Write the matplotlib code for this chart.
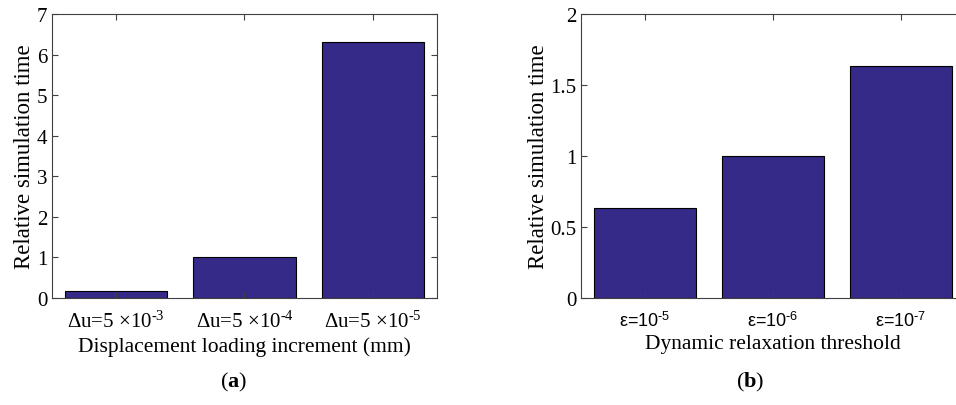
import matplotlib
matplotlib.use("Agg")
import matplotlib.pyplot as plt
from matplotlib.ticker import FormatStrFormatter

plt.rcParams['font.family'] = ['Liberation Serif', 'DejaVu Serif']
plt.rcParams['mathtext.fontset'] = 'custom'
plt.rcParams['mathtext.rm'] = 'Liberation Serif'
plt.rcParams['mathtext.bf'] = 'Liberation Serif:bold'
plt.rcParams['mathtext.sf'] = 'Liberation Sans'
plt.rcParams['mathtext.it'] = 'Liberation Serif:italic'

# (a) displacement loading increment
inc_labels = ['Δu=5 ×10$^{\\text{-}3}$', 'Δu=5 ×10$^{\\text{-}4}$', 'Δu=5 ×10$^{\\text{-}5}$']
inc_times = [0.17, 1.0, 6.32]

# (b) dynamic relaxation threshold
thr_labels = ['ε=10$^{\\mathsf{\\text{-}5}}$', 'ε=10$^{\\mathsf{\\text{-}6}}$', 'ε=10$^{\\mathsf{\\text{-}7}}$']
thr_times = [0.634, 1.0, 1.634]

bar_color = '#352A87'
W, H = 956, 406

fig = plt.figure(figsize=(W / 100, H / 100), dpi=100)
ax1 = fig.add_axes([52 / W, (H - 299) / H, 385 / W, 284 / H])
ax2 = fig.add_axes([581 / W, (H - 299) / H, 384 / W, 284 / H])


def style_axes(ax):
    for s in ax.spines.values():
        s.set_color('#404040')
        s.set_linewidth(0.8)
    ax.tick_params(direction='in', top=True, right=True, length=4,
                   color='#404040', labelsize=15)
    ax.tick_params(axis='x', pad=9)
    ax.set_xlim(0.5, 3.5)


x = [1, 2, 3]
ax1.bar(x, inc_times, width=0.8, color=bar_color, edgecolor='black', linewidth=0.8)
style_axes(ax1)
ax1.set_ylim(0, 7)
ax1.set_yticks(range(8))
ax1.set_xticks(x)
ax1.set_xticklabels(inc_labels, fontsize=15)
ax1.set_xlabel('Displacement loading increment (mm)', fontsize=15.5, labelpad=3)
ax1.set_ylabel('Relative simulation time', fontsize=16.5, labelpad=1)

ax2.bar(x, thr_times, width=0.8, color=bar_color, edgecolor='black', linewidth=0.8)
style_axes(ax2)
ax2.set_ylim(0, 2)
ax2.set_yticks([0, 0.5, 1, 1.5, 2])
ax2.yaxis.set_major_formatter(FormatStrFormatter('%g'))
ax2.set_xticks(x)
ax2.set_xticklabels(thr_labels, fontsize=13, family=['Liberation Sans', 'DejaVu Sans'])
ax2.set_xlabel('Dynamic relaxation threshold', fontsize=15.5, labelpad=3)
ax2.set_ylabel('Relative simulation time', fontsize=16.5, labelpad=1)

fig.text(234 / W, 1 - 382 / H, '($\\mathbf{a}$)', ha='center', va='center', fontsize=16)
fig.text(750 / W, 1 - 382 / H, '($\\mathbf{b}$)', ha='center', va='center', fontsize=16)

fig.savefig('out.png', dpi=100)
